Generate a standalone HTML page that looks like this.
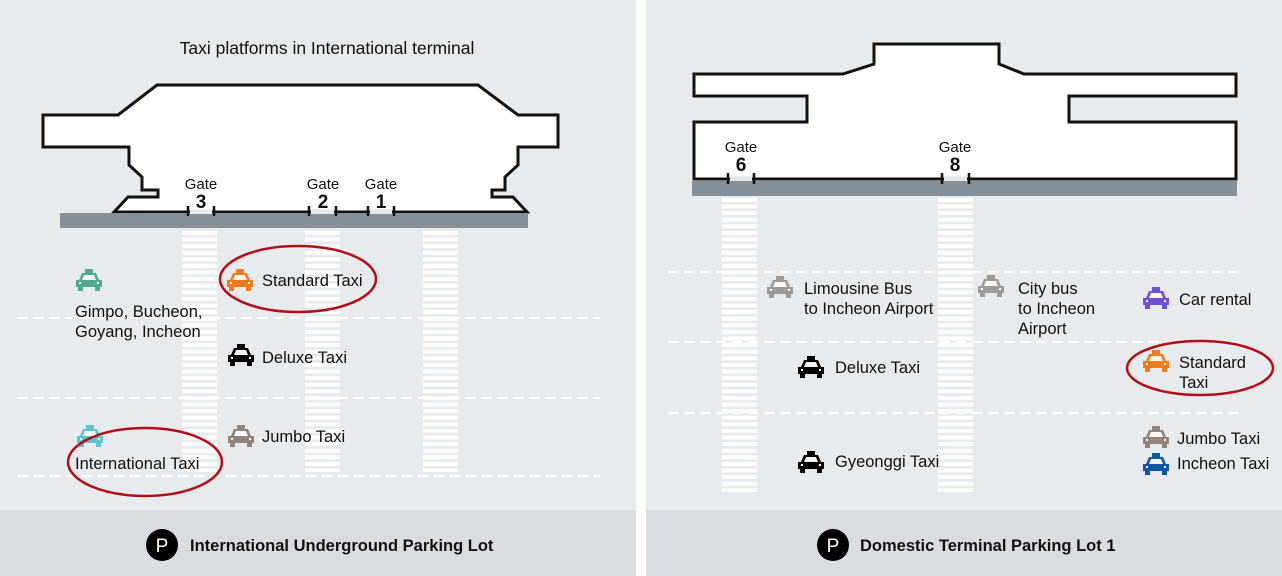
<!DOCTYPE html>
<html><head><meta charset="utf-8"><style>
html,body{margin:0;padding:0;background:#fff}
svg{display:block}
text{font-family:"Liberation Sans",sans-serif;fill:#111}
</style></head><body>
<svg width="1282" height="576" viewBox="0 0 1282 576" xmlns="http://www.w3.org/2000/svg">
<defs>
<symbol id="car" viewBox="0 0 26 22">
<rect x="9" y="0" width="8" height="4"/>
<path d="M6 4 H20 L23 11 H26 V18 H0 V11 H3 Z"/>
<rect x="2" y="17" width="5" height="5"/>
<rect x="19" y="17" width="5" height="5"/>
<path d="M8 6 H18 L20 11 H6 Z" fill="#fff" opacity="0.95"/>
<rect x="3" y="13" width="2" height="2" fill="#fff"/>
<rect x="21" y="13" width="2" height="2" fill="#fff"/>
</symbol>
<pattern id="cw" x="0" y="0" width="10" height="6.6" patternUnits="userSpaceOnUse">
<rect x="0" y="0" width="10" height="3.8" fill="#fff"/>
</pattern>
</defs>
<rect x="0" y="0" width="636" height="576" fill="#e8ebee"/>
<rect x="646" y="0" width="636" height="576" fill="#e8ebee"/>
<rect x="0" y="510" width="636" height="66" fill="#d9dde1"/>
<rect x="646" y="510" width="636" height="66" fill="#d9dde1"/>

<!-- LEFT PANEL -->
<text x="327" y="54" font-size="17.5" text-anchor="middle">Taxi platforms in International terminal</text>
<g stroke="#fff" stroke-width="2" stroke-dasharray="10 6">
<line x1="18" y1="318" x2="600" y2="318"/>
<line x1="18" y1="398" x2="600" y2="398"/>
<line x1="18" y1="476" x2="600" y2="476"/>
</g>
<rect x="182" y="230" width="35" height="242" fill="url(#cw)"/>
<rect x="305" y="230" width="35" height="242" fill="url(#cw)"/>
<rect x="423" y="230" width="35" height="242" fill="url(#cw)"/>
<path d="M157 85 H478 L518 115 H558 V147 H518 V165 L505 177 V190 H492 V197 H513 L527 212 H114 L128 197 H158 V190 H142 V177 L129 165 V147 H43 V115 H118 Z" fill="#fff" stroke="#111" stroke-width="3" stroke-linejoin="miter"/>
<rect x="60" y="213" width="468" height="15" fill="#85919a"/>
<g fill="#e8ebee"><rect x="190" y="209" width="22" height="5"/><rect x="311" y="209" width="23" height="5"/><rect x="370" y="209" width="22" height="5"/></g>
<g stroke="#111" stroke-width="2.5">
<line x1="188" y1="206" x2="188" y2="216"/><line x1="214" y1="206" x2="214" y2="216"/>
<line x1="309" y1="206" x2="309" y2="216"/><line x1="336" y1="206" x2="336" y2="216"/>
<line x1="368" y1="206" x2="368" y2="216"/><line x1="394" y1="206" x2="394" y2="216"/>
</g>
<g font-size="15" text-anchor="middle">
<text x="201" y="189">Gate</text><text x="201" y="208" font-size="19" font-weight="bold">3</text>
<text x="323" y="189">Gate</text><text x="323" y="208" font-size="19" font-weight="bold">2</text>
<text x="381" y="189">Gate</text><text x="381" y="208" font-size="19" font-weight="bold">1</text>
</g>
<use href="#car" x="76" y="269" width="26" height="22" fill="#52a992"/>
<use href="#car" x="227" y="269" width="26" height="22" fill="#f07a1e"/>
<use href="#car" x="228" y="344" width="26" height="22" fill="#000"/>
<use href="#car" x="228" y="425" width="26" height="22" fill="#938379"/>
<use href="#car" x="77" y="425" width="26" height="22" fill="#5cc3cf"/>
<g font-size="16.5">
<text x="262" y="286">Standard Taxi</text>
<text x="75" y="317">Gimpo, Bucheon,</text>
<text x="75" y="337">Goyang, Incheon</text>
<text x="262" y="363">Deluxe Taxi</text>
<text x="262" y="442">Jumbo Taxi</text>
<text x="75" y="469">International Taxi</text>
</g>
<ellipse cx="298" cy="279" rx="78" ry="33" fill="none" stroke="#b30e16" stroke-width="2.5"/>
<ellipse cx="145" cy="462" rx="77" ry="34" fill="none" stroke="#b30e16" stroke-width="2.5"/>
<circle cx="162" cy="545" r="16" fill="#000"/>
<text x="162" y="552" font-size="19" style="fill:#fff" text-anchor="middle">P</text>
<text x="190" y="551" font-size="16.5" font-weight="bold">International Underground Parking Lot</text>

<!-- RIGHT PANEL -->
<g stroke="#fff" stroke-width="2" stroke-dasharray="10 6">
<line x1="668" y1="272" x2="1240" y2="272"/>
<line x1="668" y1="342" x2="1240" y2="342"/>
<line x1="668" y1="413" x2="1240" y2="413"/>
</g>
<rect x="722" y="198" width="35" height="294" fill="url(#cw)"/>
<rect x="938" y="198" width="35" height="294" fill="url(#cw)"/>
<path d="M874 44 H999 V64 L1024 74 H1236 V96 H1069 V122 H1236 V179 H694 V122 H807 V96 H694 V74 H843 L874 64 Z" fill="#fff" stroke="#111" stroke-width="3"/>
<rect x="692" y="181" width="545" height="15" fill="#85919a"/>
<g fill="#e8ebee"><rect x="730" y="176" width="22" height="5"/><rect x="944" y="176" width="23" height="5"/></g>
<g stroke="#111" stroke-width="2.5">
<line x1="728" y1="173" x2="728" y2="184"/><line x1="754" y1="173" x2="754" y2="184"/>
<line x1="942" y1="173" x2="942" y2="184"/><line x1="969" y1="173" x2="969" y2="184"/>
</g>
<g font-size="15" text-anchor="middle">
<text x="741" y="152">Gate</text><text x="741" y="171" font-size="19" font-weight="bold">6</text>
<text x="955" y="152">Gate</text><text x="955" y="171" font-size="19" font-weight="bold">8</text>
</g>
<use href="#car" x="767" y="276" width="26" height="22" fill="#9b9b9b"/>
<use href="#car" x="978" y="275" width="26" height="22" fill="#9b9b9b"/>
<use href="#car" x="1143" y="287" width="26" height="22" fill="#6e4fd6"/>
<use href="#car" x="798" y="356" width="26" height="22" fill="#000"/>
<use href="#car" x="1143" y="350" width="26" height="22" fill="#f07a1e"/>
<use href="#car" x="798" y="451" width="26" height="22" fill="#000"/>
<use href="#car" x="1143" y="426" width="26" height="22" fill="#938379"/>
<use href="#car" x="1143" y="453" width="26" height="22" fill="#0f57a3"/>
<g font-size="16.5">
<text x="804" y="294">Limousine Bus</text>
<text x="804" y="314">to Incheon Airport</text>
<text x="1018" y="294">City bus</text>
<text x="1018" y="314">to Incheon</text>
<text x="1018" y="334">Airport</text>
<text x="1179" y="305">Car rental</text>
<text x="835" y="373">Deluxe Taxi</text>
<text x="1179" y="368">Standard</text>
<text x="1179" y="388">Taxi</text>
<text x="835" y="467">Gyeonggi Taxi</text>
<text x="1177" y="444">Jumbo Taxi</text>
<text x="1177" y="469">Incheon Taxi</text>
</g>
<ellipse cx="1200" cy="368" rx="73" ry="27" fill="none" stroke="#b30e16" stroke-width="2.5"/>
<circle cx="833" cy="545" r="16" fill="#000"/>
<text x="833" y="552" font-size="19" style="fill:#fff" text-anchor="middle">P</text>
<text x="860" y="551" font-size="16.5" font-weight="bold">Domestic Terminal Parking Lot 1</text>
</svg>
</body></html>
